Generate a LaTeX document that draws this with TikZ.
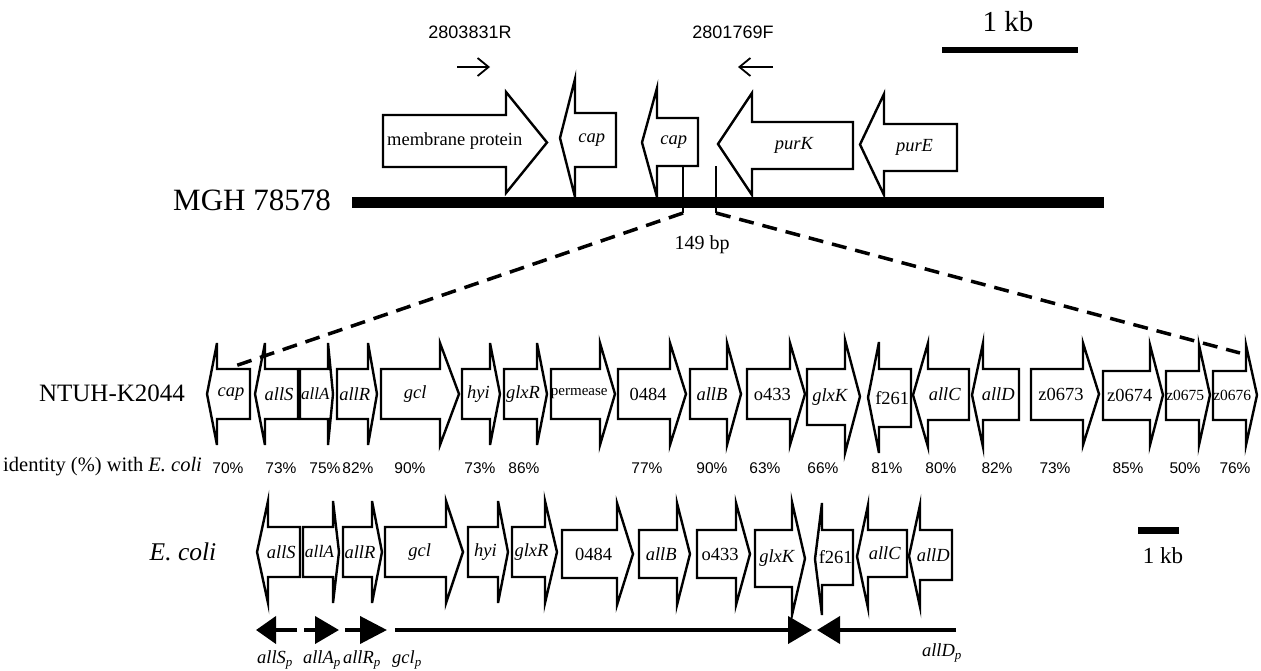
\documentclass[tikz,border=0pt]{standalone}
\usepackage{fontspec}
\setmainfont{Liberation Serif}
\newfontfamily\arialf{Liberation Sans}
\usetikzlibrary{arrows.meta}
\newcommand{\gR}[9]{%
 \draw[gene] (#2,#5) -- (#3,#5) -- (#3,#7) -- (#4,{(#7+#8)/2}) -- (#3,#8) -- (#3,#6) -- (#2,#6) -- cycle;
 \node[lab] (#1) at ({(2*#2+#3+#4)/4},{(#5+#6)/2}) {#9};}
\newcommand{\gL}[9]{%
 \draw[gene] (#4,#5) -- (#3,#5) -- (#3,#7) -- (#2,{(#7+#8)/2}) -- (#3,#8) -- (#3,#6) -- (#4,#6) -- cycle;
 \node[lab] (#1) at ({(#2+#3+2*#4)/4},{(#5+#6)/2}) {#9};}
\newcommand{\fs}[1]{\fontsize{#1}{#1}\selectfont}
\tikzset{
 gene/.style={draw=black, fill=white, line width=2.4pt, line join=miter},
 lab/.style={font=\fs{18.5}\itshape, inner sep=0pt},
 pct/.style={font=\arialf\fs{15.5}, inner sep=0pt},
 dashcon/.style={line width=3.5pt, dash pattern=on 15pt off 9pt},
 parr/.style={line width=4pt},
 plab/.style={font=\fs{18.5}\itshape, inner sep=0pt},
}
\begin{document}
\begin{tikzpicture}[x=1pt,y=-1pt]
\useasboundingbox (0,0) rectangle (1261,670);
% ---------- top: MGH 78578 ----------
\node[font=\arialf\fs{18}, inner sep=0pt] (p1) at (470,32) {2803831R};
\node[font=\arialf\fs{18}, inner sep=0pt] (p2) at (733,32) {2801769F};
\coordinate (p1a) at (457,67); \coordinate (p1b) at (490,67);
\coordinate (p2a) at (773,67); \coordinate (p2b) at (738,67);
\draw[line width=1.8pt, -{Straight Barb[length=11pt,width=18pt,line width=1.8pt]}] (p1a) -- (p1b);
\draw[line width=1.8pt, -{Straight Barb[length=11pt,width=18pt,line width=1.8pt]}] (p2a) -- (p2b);
\node[font=\fs{29}, inner sep=0pt] (kb1) at (1008,22) {1 kb};
\coordinate (sb1a) at (942,50); \coordinate (sb1b) at (1078,50);
\draw[line width=6pt] (sb1a) -- (sb1b);
\node[font=\fs{31}, inner sep=0pt] (mgh) at (252,200) {MGH 78578};
\fill (352,197) rectangle (1104,208);
\coordinate (v1t) at (683,166); \coordinate (v1b) at (683,213);
\coordinate (v2t) at (716,166); \coordinate (v2b) at (716,213);
\gR{t-mem}{383}{506}{547}{115}{167}{92}{193}{\upshape membrane protein}
\gL{t-cap1}{560}{575}{616}{113}{167}{79}{197}{cap}
\gL{t-cap2}{642}{657}{698}{118}{166}{88}{197}{cap}
\gL{t-purK}{718}{752}{853}{122}{169}{93}{195}{purK}
\gL{t-purE}{860}{884}{957}{124}{171}{94}{195}{purE}
\draw[line width=2.2pt] (v1t) -- (v1b);
\draw[line width=2.2pt] (v2t) -- (v2b);
\node[font=\fs{20}, inner sep=0pt] (bp) at (702,245) {149 bp};
% ---------- NTUH-K2044 ----------
\node[font=\fs{25}, inner sep=0pt] (ntuh) at (112,393) {NTUH-K2044};
\gL{n-cap}{207}{217}{250}{369}{419}{343}{445}{cap}
\gL{n-allS}{255}{265}{298}{369}{419}{343}{445}{allS}
\gR{n-allA}{300}{328}{333}{369}{419}{343}{445}{\fs{17}allA}
\gR{n-allR}{337}{368}{377}{369}{419}{343}{445}{allR}
\gR{n-gcl}{381}{440}{459}{369}{419}{343}{445}{gcl}
\gR{n-hyi}{462}{490}{500}{369}{419}{343}{445}{hyi}
\gR{n-glxR}{504}{537}{547}{369}{419}{343}{445}{glxR}
\gR{n-perm}{551}{600}{615}{369}{419}{343}{445}{\upshape\fs{15}permease}
\gR{n-0484}{618}{670}{686}{369}{419}{343}{445}{\upshape 0484}
\gR{n-allB}{690}{727}{741}{369}{419}{343}{445}{allB}
\gR{n-o433}{747}{790}{805}{369}{419}{343}{445}{\upshape o433}
\gR{n-glxK}{807}{845}{860}{369}{425}{340}{453}{glxK}
\gL{n-f261}{868}{879}{911}{369}{427}{342}{453}{\upshape f261}
\gL{n-allC}{913}{928}{969}{369}{420}{343}{447}{allC}
\gL{n-allD}{972}{983}{1019}{369}{420}{343}{447}{allD}
\gR{n-z0673}{1031}{1083}{1099}{369}{420}{343}{445}{\upshape z0673}
\gR{n-z0674}{1103}{1150}{1163}{371}{420}{345}{445}{\upshape z0674}
\gR{n-z0675}{1166}{1199}{1210}{371}{420}{345}{445}{\upshape\fs{15.5}z0675}
\gR{n-z0676}{1213}{1246}{1257}{371}{420}{345}{445}{\upshape\fs{15.5}z0676}
% zoom connectors
\coordinate (dl) at (235,366);
\coordinate (dr) at (1240,353);
\draw[dashcon] (v1b) -- (dl);
\draw[dashcon] (v2b) -- (dr);
% ---------- identity row ----------
\node[font=\fs{20.5}, inner sep=0pt, anchor=west] (ident) at (3,467) {identity (\%) with \textit{E. coli}};
\node[pct] (c1) at (228,468) {70\%};
\node[pct] (c2) at (281,468) {73\%};
\node[pct] (c3) at (325,468) {75\%};
\node[pct] (c4) at (358,468) {82\%};
\node[pct] (c5) at (410,468) {90\%};
\node[pct] (c6) at (480,468) {73\%};
\node[pct] (c7) at (524,468) {86\%};
\node[pct] (c8) at (647,468) {77\%};
\node[pct] (c9) at (712,468) {90\%};
\node[pct] (c10) at (765,468) {63\%};
\node[pct] (c11) at (823,468) {66\%};
\node[pct] (c12) at (887,468) {81\%};
\node[pct] (c13) at (941,468) {80\%};
\node[pct] (c14) at (997,468) {82\%};
\node[pct] (c15) at (1055,468) {73\%};
\node[pct] (c16) at (1128,468) {85\%};
\node[pct] (c17) at (1185,468) {50\%};
\node[pct] (c18) at (1235,468) {76\%};
% ---------- E. coli ----------
\node[font=\fs{25.5}\itshape, inner sep=0pt] (ecoli) at (183,552) {E. coli};
\gL{e-allS}{257}{268}{300}{527}{577}{501}{603}{allS}
\gR{e-allA}{303}{333}{339}{527}{577}{501}{603}{\fs{17.5}allA}
\gR{e-allR}{343}{372}{382}{527}{577}{501}{603}{allR}
\gR{e-gcl}{385}{446}{463}{527}{577}{501}{603}{gcl}
\gR{e-hyi}{468}{498}{508}{527}{577}{501}{603}{hyi}
\gR{e-glxR}{512}{545}{557}{527}{577}{501}{603}{glxR}
\gR{e-0484}{562}{617}{633}{530}{578}{503}{605}{\upshape 0484}
\gR{e-allB}{639}{677}{690}{530}{578}{503}{605}{allB}
\gR{e-o433}{697}{736}{750}{530}{578}{503}{605}{\upshape o433}
\gR{e-glxK}{755}{792}{805}{530}{587}{502}{615}{glxK}
\gL{e-f261}{815}{822}{853}{530}{585}{503}{615}{\upshape f261}
\gL{e-allC}{857}{868}{907}{530}{577}{505}{608}{allC}
\gL{e-allD}{909}{920}{952}{530}{580}{505}{607}{allD}
\node[font=\fs{23}, inner sep=0pt] (kb2) at (1163,556) {1 kb};
\coordinate (sb2a) at (1138,530); \coordinate (sb2b) at (1179,530);
\draw[line width=7pt] (sb2a) -- (sb2b);
% ---------- promoters ----------
\coordinate (aS0) at (297,630); \coordinate (aS1) at (256,630);
\coordinate (aA0) at (304,630); \coordinate (aA1) at (339,630);
\coordinate (aR0) at (345,630); \coordinate (aR1) at (387,630);
\coordinate (aG0) at (395,630); \coordinate (aG1) at (812,630);
\coordinate (aD0) at (956,630); \coordinate (aD1) at (817,630);
\draw[parr, -{Triangle[length=20pt,width=27pt]}] (aS0) -- (aS1);
\draw[parr, -{Triangle[length=24pt,width=27pt]}] (aA0) -- (aA1);
\draw[parr, -{Triangle[length=27pt,width=27pt]}] (aR0) -- (aR1);
\draw[parr, -{Triangle[length=24pt,width=27pt]}] (aG0) -- (aG1);
\draw[parr, -{Triangle[length=23pt,width=27pt]}] (aD0) -- (aD1);
\node[plab] (lS) at (275,660) {allS\textsubscript{p}};
\node[plab] (lA) at (322,660) {allA\textsubscript{p}};
\node[plab] (lR) at (362,660) {allR\textsubscript{p}};
\node[plab] (lG) at (407,660) {gcl\textsubscript{p}};
\node[plab] (lD) at (942,653) {allD\textsubscript{p}};
\end{tikzpicture}
\end{document}
